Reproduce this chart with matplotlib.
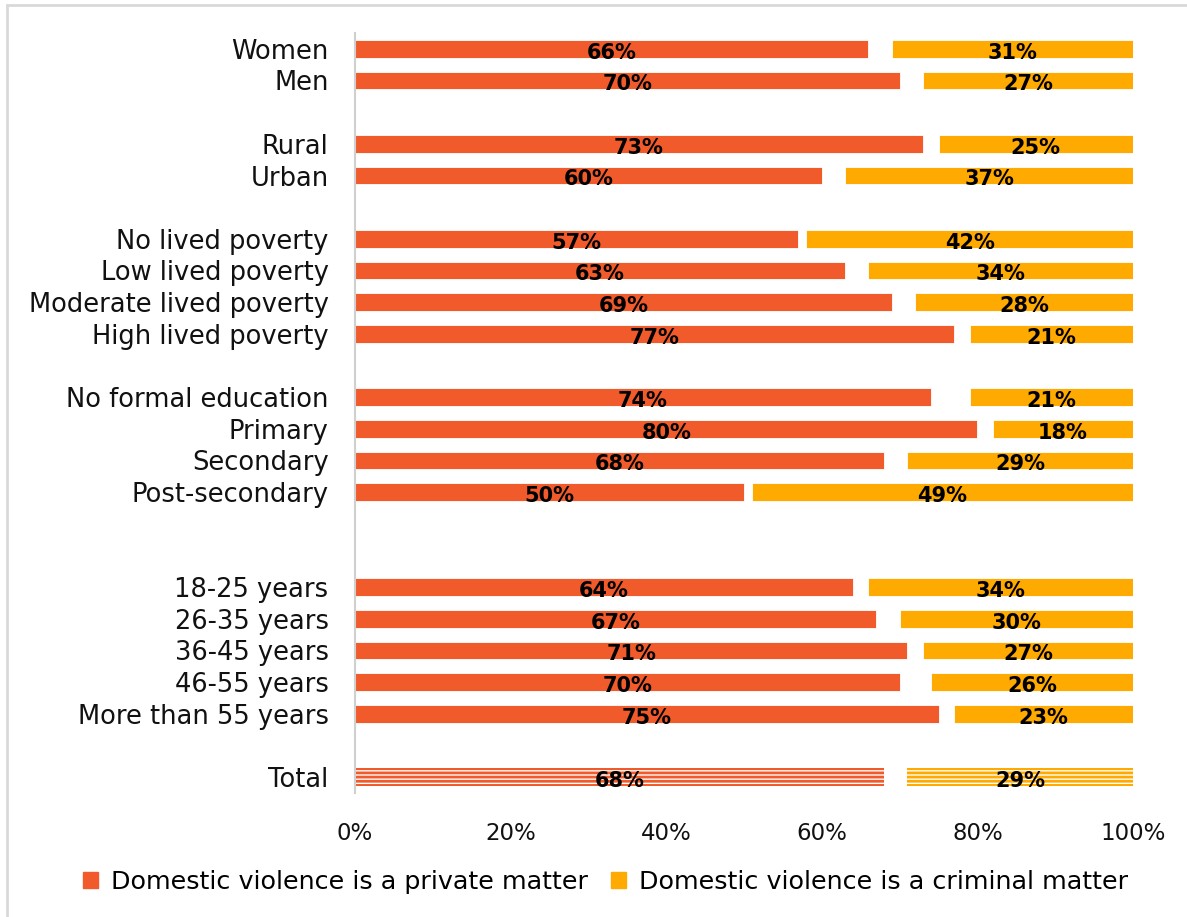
import numpy as np
import matplotlib.pyplot as plt
from matplotlib.patches import Rectangle

categories = ["Women", "Men",
              "Rural", "Urban",
              "No lived poverty", "Low lived poverty", "Moderate lived poverty", "High lived poverty",
              "No formal education", "Primary", "Secondary", "Post-secondary",
              "18-25 years", "26-35 years", "36-45 years", "46-55 years", "More than 55 years",
              "Total"]
private = [66, 70, 73, 60, 57, 63, 69, 77, 74, 80, 68, 50, 64, 67, 71, 70, 75, 68]
criminal = [31, 27, 25, 37, 42, 34, 28, 21, 21, 18, 29, 49, 34, 30, 27, 26, 23, 29]

# empty rows inserted before each category to separate the groups
blank_before = [0, 0, 1, 0, 1, 0, 0, 0, 1, 0, 0, 0, 2, 0, 0, 0, 0, 1]

c_private = "#F15A2B"
c_criminal = "#FFAA00"

plt.rcParams['font.family'] = ['DejaVu Sans']
plt.rcParams['hatch.linewidth'] = 2.0

ypos = np.cumsum(np.array(blank_before) + 1) - 1
private = np.array(private)
criminal = np.array(criminal)

fig = plt.figure(figsize=(11.87, 9.17), dpi=100)
ax = fig.add_axes([355 / 1187, 1 - 793 / 917, (1133 - 355) / 1187, (793 - 33) / 917])

h = 0.55
is_total = np.array([c == "Total" for c in categories])
for i, y in enumerate(ypos):
    crim_left = 100 - criminal[i]
    if is_total[i]:
        ax.barh(y, private[i], height=h, color="white", edgecolor=c_private, hatch="----", lw=0)
        ax.barh(y, criminal[i], left=crim_left, height=h, color="white", edgecolor=c_criminal,
                hatch="----", lw=0)
    else:
        ax.barh(y, private[i], height=h, color=c_private, edgecolor="white", lw=0.6)
        ax.barh(y, criminal[i], left=crim_left, height=h, color=c_criminal, edgecolor="white", lw=0.6)
    ax.text(private[i] / 2, y + 0.12, f"{private[i]}%", ha="center", va="center",
            fontsize=15, fontweight="bold", color="black")
    ax.text(crim_left + criminal[i] / 2, y + 0.12, f"{criminal[i]}%", ha="center", va="center",
            fontsize=15, fontweight="bold", color="black")

ax.set_ylim(ypos[-1] + 0.5, -0.5)
ax.set_xlim(0, 100)
ax.set_yticks(ypos)
ax.set_yticklabels(categories, fontsize=18.5, color="#111111")
ax.set_xticks(np.arange(0, 101, 20))
ax.set_xticklabels([f"{v}%" for v in range(0, 101, 20)], fontsize=16.5, color="#111111")
ax.tick_params(axis="both", length=0)
ax.tick_params(axis="y", pad=19)
ax.tick_params(axis="x", pad=21)
for s in ["top", "right", "bottom"]:
    ax.spines[s].set_visible(False)
ax.spines["left"].set_color("#d0d0d0")
ax.spines["left"].set_linewidth(1.5)

# legend
handles = [Rectangle((0, 0), 1, 1, color=c_private), Rectangle((0, 0), 1, 1, color=c_criminal)]
fig.legend(handles, ["Domestic violence is a private matter", "Domestic violence is a criminal matter"],
           loc="center", bbox_to_anchor=(0.51, 1 - 882 / 917), ncol=2, frameon=False, fontsize=18.3,
           handlelength=0.6, handleheight=0.6, handletextpad=0.5, columnspacing=0.9)

# light frame around the figure
fig.patches.append(Rectangle((7 / 1187, -0.01), 1.0, 1 - 5 / 917 + 0.01, transform=fig.transFigure,
                             fill=False, edgecolor="#d9d9d9", lw=2))

fig.savefig("out.png", dpi=100)
